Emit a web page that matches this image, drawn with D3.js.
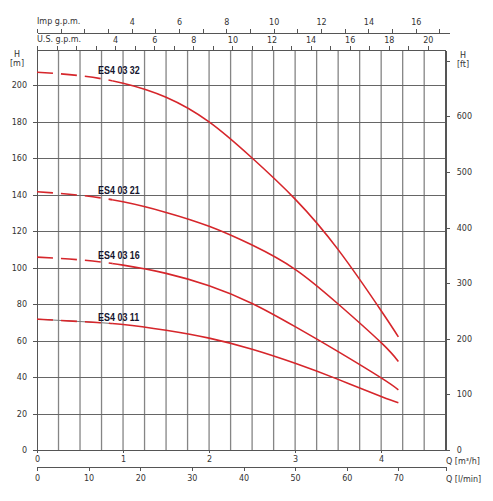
<!DOCTYPE html>
<html lang="en">
<head>
    <meta charset="UTF-8">
    <title>ES4 03 pump curves</title>
    <script src="https://d3js.org/d3.v7.min.js"></script>
    <style>
        body { margin: 0; background: #fff; }
        .ax text { font-family: "DejaVu Sans", sans-serif; font-size: 8px; fill: #333; }
        .ax path, .ax line { stroke: #555; shape-rendering: crispEdges; }
        .lbl { font-family: "DejaVu Sans", sans-serif; font-size: 8px; fill: #333; }
        .curve { fill: none; stroke: #d6262b; stroke-width: 1.6; }
        .name { font-family: "Liberation Sans", sans-serif; font-weight: bold; font-size: 10.5px; fill: #15152e; }
    </style>
</head>
<body>
<div id="chart"></div>
<script>
// flow in m3/h, head in m
const flow = [0, 0.5, 1.0, 1.5, 2.0, 2.5, 3.0, 3.5, 4.0, 4.2];
const h32 = [207, 205.1, 201, 193.3, 179.8, 160, 137.5, 109.8, 76.3, 62];
const h21 = [141.5, 139.6, 136, 130.2, 122.6, 112.3, 99, 80, 58.8, 48.5];
const h16 = [105.7, 104.2, 101.3, 96.8, 90, 80.3, 67.6, 53.9, 39.5, 33];
const h11 = [71.7, 70.4, 68.8, 65.6, 61.3, 55.2, 47.5, 38.7, 29.3, 25.9];
const names = ["ES4 03 32", "ES4 03 21", "ES4 03 16", "ES4 03 11"];
const dashEnd = 0.88;   // m3/h, curves dashed below this flow
const labelFlow = 0.71;

const W = 493, H = 501;
const x0 = 37, x1 = 445.7, yTop = 50, yBot = 450;
const qMax = 4.75, hMax = 219.2;

const svg = d3.select("#chart").append("svg")
    .attr("width", W)
    .attr("height", H);

const x = d3.scaleLinear().domain([0, qMax]).range([x0, x1]);
const y = d3.scaleLinear().domain([0, hMax]).range([yBot, yTop]);
const xL = d3.scaleLinear().domain([0, qMax * 1000 / 60]).range([x0, x1]);
const xUS = d3.scaleLinear().domain([0, qMax / 0.22712]).range([x0, x1]);
const xImp = d3.scaleLinear().domain([0, qMax / 0.27277]).range([x0, x1 + 3.5]);
const yFt = d3.scaleLinear().domain([0, hMax / 0.3048]).range([yBot, yTop]);

// grid
const grid = svg.append("g");
grid.selectAll("line.v")
    .data(d3.range(1, 19).map(i => i * 0.25))
    .join("line")
    .attr("x1", d => x(d)).attr("x2", d => x(d))
    .attr("y1", yTop).attr("y2", yBot)
    .attr("stroke", "#858585").attr("stroke-width", 1.3);
grid.selectAll("line.h")
    .data(d3.range(20, 220, 20))
    .join("line")
    .attr("x1", x0).attr("x2", x1)
    .attr("y1", d => Math.round(y(d)) + 0.5).attr("y2", d => Math.round(y(d)) + 0.5)
    .attr("stroke", "#666").attr("stroke-width", 1);

// frame
svg.append("rect")
    .attr("x", x0).attr("y", yTop)
    .attr("width", x1 - x0).attr("height", yBot - yTop)
    .attr("fill", "none").attr("stroke", "#555").attr("shape-rendering", "crispEdges");

// axes
const every2 = (lo) => d => (d >= lo && d % 2 === 0) ? d : "";

svg.append("g").attr("class", "ax")
    .attr("transform", `translate(0,${yBot})`)
    .call(d3.axisBottom(x).tickValues([0, 1, 2, 3, 4]).tickFormat(d3.format("d"))
        .tickSize(3).tickSizeOuter(0).tickPadding(3));

svg.append("g").attr("class", "ax")
    .attr("transform", "translate(0,467)")
    .call(d3.axisBottom(xL).tickValues(d3.range(0, 80, 10)).tickSize(4).tickSizeOuter(4).tickPadding(4));

svg.append("g").attr("class", "ax")
    .attr("transform", `translate(0,${yTop})`)
    .call(d3.axisTop(xUS).tickValues(d3.range(0, 21)).tickFormat(every2(4)).tickSize(4).tickSizeOuter(0).tickPadding(3));

svg.append("g").attr("class", "ax")
    .attr("transform", "translate(0,33)")
    .call(d3.axisTop(xImp).tickValues(d3.range(0, 18)).tickFormat(every2(4)).tickSize(4).tickSizeOuter(0).tickPadding(4));

svg.append("g").attr("class", "ax")
    .attr("transform", `translate(${x0},0)`)
    .call(d3.axisLeft(y).tickValues(d3.range(0, 220, 20)).tickSize(4).tickSizeOuter(0).tickPadding(6));

svg.append("g").attr("class", "ax")
    .attr("transform", `translate(${x1},0)`)
    .call(d3.axisRight(yFt).tickValues(d3.range(0, 800, 100)).tickFormat(d => d === 700 ? "" : d).tickSize(4).tickSizeOuter(0).tickPadding(7));

svg.selectAll(".ax .domain").attr("stroke", "#555");

// axis titles
const lbl = (t, px, py, anchor) => svg.append("text").attr("class", "lbl")
    .attr("x", px).attr("y", py).attr("text-anchor", anchor || "start").text(t);
lbl("Imp g.p.m.", x0, 24);
lbl("U.S. g.p.m.", x0, 42);
lbl("H", 17, 57, "middle");
lbl("[m]", 17, 66, "middle");
lbl("H", 463, 58, "middle");
lbl("[ft]", 463, 67, "middle");
lbl("Q [m³/h]", 446, 464);
lbl("Q [l/min]", 446, 482);

// clip areas for dashed / solid parts
const defs = svg.append("defs");
defs.append("clipPath").attr("id", "clipDash")
    .append("rect").attr("x", 0).attr("y", 0).attr("width", x(dashEnd)).attr("height", H);
defs.append("clipPath").attr("id", "clipSolid")
    .append("rect").attr("x", x(dashEnd)).attr("y", 0).attr("width", W).attr("height", H);

const series = [h32, h21, h16, h11];
const line = d3.line().curve(d3.curveNatural);

series.forEach((hs, i) => {
    const pts = flow.map((q, k) => [x(q), y(hs[k])]);
    const g = svg.append("g");
    if (i === 3) {
        g.append("path").attr("d", line(pts)).attr("clip-path", "url(#clipDash)")
            .attr("fill", "none").attr("stroke", "#777").attr("stroke-width", 1);
    }
    g.append("path").attr("class", "curve").attr("d", line(pts))
        .attr("clip-path", "url(#clipDash)")
        .attr("stroke-dasharray", "16,8");
    g.append("path").attr("class", "curve").attr("d", line(pts))
        .attr("clip-path", "url(#clipSolid)");
    svg.append("text").attr("class", "name")
        .attr("transform", `translate(${x(labelFlow)},${y(hs[0]) + 2}) scale(0.85,1)`)
        .text(names[i]);
});
</script>
</body>
</html>
